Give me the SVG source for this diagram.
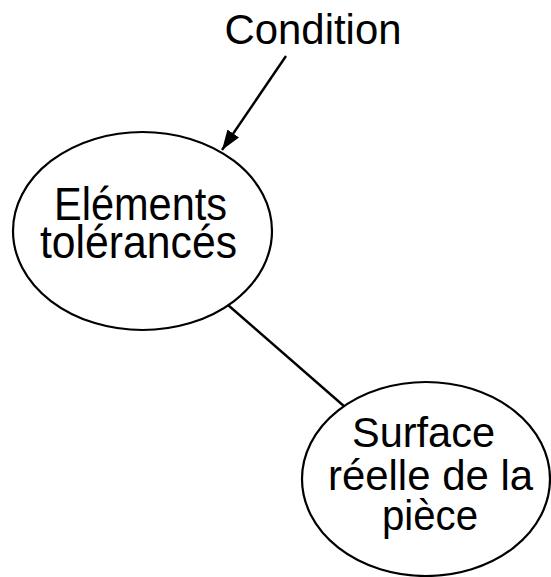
<svg xmlns="http://www.w3.org/2000/svg" width="551" height="577" viewBox="0 0 551 577">
<style>
.n{fill:#fff;stroke:#000;stroke-width:2.2}
.t{font-family:"Liberation Sans",Arial,sans-serif;font-size:42px;fill:#000;text-anchor:middle}
.b{font-size:46px}
.c{stroke:#000;stroke-width:2.4;fill:none}
</style>
<defs>
<marker id="ah" viewBox="0 0 20 14" refX="20" refY="7" markerWidth="20" markerHeight="14" markerUnits="userSpaceOnUse" orient="auto">
<path d="M0,0L20,7L0,14z" fill="#000"/>
</marker>
</defs>
<rect width="551" height="577" fill="#fff"/>
<g id="connectors">
<line class="c" x1="286" y1="56" x2="222" y2="150" marker-end="url(#ah)"/>
<line class="c" x1="228" y1="305" x2="345" y2="407"/>
</g>
<g id="condition">
<text class="t" x="313" y="44" textLength="177" lengthAdjust="spacingAndGlyphs">Condition</text>
</g>
<g id="elements">
<ellipse class="n" cx="142.5" cy="231" rx="129.5" ry="99"/>
<text class="t b" x="140.5" y="220" textLength="173" lengthAdjust="spacingAndGlyphs">Eléments</text>
<text class="t b" x="138.5" y="258" textLength="197" lengthAdjust="spacingAndGlyphs">tolérancés</text>
</g>
<g id="surface">
<ellipse class="n" cx="426" cy="479" rx="124" ry="97"/>
<text class="t" x="423.5" y="447" textLength="143" lengthAdjust="spacingAndGlyphs">Surface</text>
<text class="t" x="430.5" y="490" textLength="205" lengthAdjust="spacingAndGlyphs">réelle de la</text>
<text class="t" x="430" y="530" textLength="96" lengthAdjust="spacingAndGlyphs">pièce</text>
</g>
</svg>
